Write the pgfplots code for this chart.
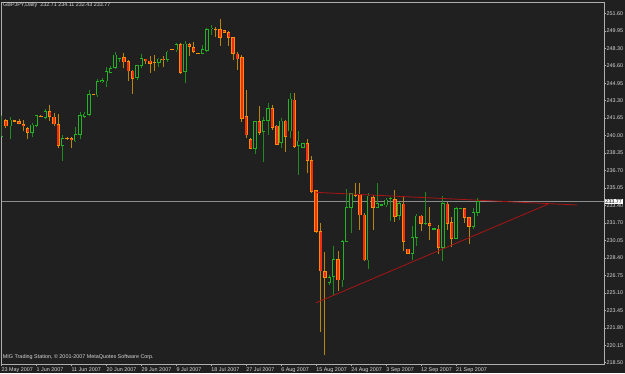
\documentclass[border=0pt]{standalone}
\usepackage{pgfplots}
\pgfplotsset{compat=1.18}
\usepackage{pgfplotstable}
\usepackage{fontspec}
\setmainfont{Liberation Sans}
\definecolor{bg}{RGB}{32,32,32}
\definecolor{axcol}{RGB}{175,175,175}
\definecolor{txt}{RGB}{215,215,215}
\definecolor{bullbody}{RGB}{35,180,35}
\definecolor{bullwick}{RGB}{30,140,30}
\definecolor{bearline}{RGB}{255,140,0}
\definecolor{bearfill}{RGB}{240,45,20}
\definecolor{bearwick}{RGB}{184,134,11}
\definecolor{trend}{RGB}{170,20,20}
\definecolor{pline}{RGB}{140,140,140}

% bullish candles: index open high low close
\pgfplotstableread{
i o h l c
0 239.91 241.97 239.85 241.87
2 240.92 241.74 239.66 241.49
7 240.29 241.18 239.85 241.02
8 240.95 242.00 240.86 241.90
10 241.74 242.57 241.56 242.31
14 239.06 240.07 237.61 239.75
17 239.50 240.86 239.41 240.13
18 240.13 242.25 239.66 241.93
19 241.81 242.28 241.65 242.06
20 242.03 244.33 241.90 243.89
22 243.86 245.38 243.70 245.12
23 245.09 245.44 244.97 245.25
24 245.19 246.54 244.65 246.10
25 246.01 246.61 245.91 246.39
26 246.45 247.90 246.36 247.65
27 247.32 247.40 247.02 247.34
31 245.50 246.73 245.28 246.64
32 246.64 247.74 246.39 247.33
36 246.95 247.40 246.48 247.27
38 247.24 248.06 247.02 247.93
40 248.12 248.75 247.93 248.66
42 246.07 248.94 245.03 248.69
46 247.81 248.56 247.71 248.16
47 248.06 250.18 247.97 250.05
48 250.12 250.49 249.54 250.22
58 238.81 241.40 238.27 241.33
60 240.39 241.81 237.54 241.43
61 241.43 243.07 240.07 242.60
64 239.34 241.65 238.81 241.40
66 240.45 244.02 239.76 243.48
68 239.06 240.45 236.28 239.50
69 238.90 239.35 238.85 239.28
75 226.11 226.81 225.86 226.59
76 226.65 229.56 224.91 228.29
78 226.34 230.12 225.70 229.97
79 229.97 234.95 229.95 233.22
80 233.22 234.61 230.82 234.54
84 228.23 234.54 227.38 234.29
86 233.22 235.49 233.12 233.60
87 233.42 233.50 233.40 233.46
88 233.44 234.07 233.28 233.91
89 234.06 234.23 231.92 234.09
91 232.43 233.76 232.02 233.60
94 228.86 231.45 228.23 230.38
95 230.38 232.55 229.56 232.40
97 231.68 234.70 231.55 231.72
99 231.15 231.25 231.10 231.19
101 229.43 234.29 228.17 233.60
104 230.28 233.22 230.19 233.12
105 233.10 233.19 233.05 233.14
108 231.39 233.12 231.17 232.71
109 232.71 234.11 232.43 233.77
}\bull

% bearish candles: index open high low close
\pgfplotstableread{
i o h l c
1 241.43 241.59 240.70 240.92
3 241.42 241.45 241.35 241.38
4 241.37 241.59 241.08 241.14
5 241.08 241.46 240.48 240.99
6 240.70 240.86 239.66 240.29
9 241.88 241.92 241.83 241.86
11 242.31 242.91 241.43 241.81
12 241.78 242.12 240.92 241.11
13 241.08 242.06 238.84 239.06
15 239.76 239.85 239.60 239.74
16 239.75 239.91 238.87 239.63
21 243.90 243.93 243.85 243.88
28 247.40 247.81 246.39 246.99
29 247.02 247.18 245.22 246.13
30 246.13 246.23 243.99 245.41
33 247.27 247.30 246.80 247.08
34 247.08 247.59 245.98 246.86
35 246.97 247.62 246.17 246.94
37 247.27 247.59 246.48 247.18
39 248.23 248.26 248.17 248.20
41 248.63 248.75 245.82 246.01
43 248.66 248.75 247.59 248.44
44 248.38 248.91 247.81 247.97
45 247.85 247.88 247.80 247.83
49 250.10 250.33 249.39 250.06
50 250.08 251.06 248.53 249.29
51 249.95 250.00 249.72 249.77
52 249.80 249.95 248.53 249.29
53 249.29 249.39 247.18 247.81
54 247.74 247.97 246.23 247.27
55 247.40 247.65 241.33 241.65
56 241.81 244.33 239.76 240.07
57 239.66 239.76 238.75 238.81
59 241.33 242.85 240.07 240.29
62 242.60 242.91 240.54 240.77
63 240.92 241.02 239.12 239.19
65 241.40 241.49 238.49 239.91
67 243.39 244.02 238.81 238.97
70 239.28 239.69 236.44 237.64
71 237.67 238.08 234.61 234.70
72 234.80 234.85 230.82 230.91
73 230.91 231.70 221.44 227.19
74 227.12 229.02 219.23 226.59
77 228.29 229.08 225.32 226.34
81 234.40 235.49 234.23 234.37
82 234.39 235.49 231.07 232.49
83 232.49 232.65 228.17 228.23
85 234.17 234.39 231.07 233.22
90 233.98 234.86 231.86 232.33
92 233.53 234.17 229.08 229.97
93 229.27 229.30 228.83 228.86
96 232.40 232.49 230.98 231.70
98 231.70 233.28 230.12 231.51
100 231.17 231.55 228.77 229.43
102 233.53 233.69 231.07 231.70
103 231.80 232.33 229.43 230.28
106 233.12 233.19 231.70 232.27
107 232.27 232.33 229.74 231.39
}\bear

\begin{document}
\begin{tikzpicture}[font=\fontsize{5.4}{6}\selectfont]
\fill[bg] (0,0) rectangle (625pt,373pt);
\begin{axis}[
  at={(1.5pt,9pt)}, anchor=south west,
  width=602.5pt, height=362pt, scale only axis,
  xmin=0, xmax=137.87, ymin=218.38, ymax=252.67,
  axis line style={draw=axcol, line width=0.6pt},
  tick align=outside, major tick length=2pt,
  tick style={draw=axcol, line width=0.5pt},
  ytick pos=right, yticklabel pos=right, xtick pos=bottom,
  tick label style={font=\fontsize{5.4}{6}\selectfont, text=txt},
  xtick={0,8,16,24,32,40,48,56,64,72,80,88,96,104},
  xticklabels={23 May 2007,1 Jun 2007,11 Jun 2007,20 Jun 2007,29 Jun 2007,9 Jul 2007,18 Jul 2007,27 Jul 2007,6 Aug 2007,15 Aug 2007,24 Aug 2007,3 Sep 2007,12 Sep 2007,21 Sep 2007},
  xticklabel style={anchor=north west, inner sep=0pt, yshift=-1.5pt},
  ytick={251.600,249.945,248.290,246.635,244.980,243.325,241.670,240.015,238.360,236.705,235.050,233.395,231.740,230.085,228.430,226.775,225.120,223.465,221.810,220.155,218.500},
  yticklabels={251.60,249.95,248.30,246.60,244.95,243.30,241.65,240.00,238.35,236.70,235.05,233.40,231.70,230.05,228.40,226.75,225.10,223.45,221.80,220.15,218.50},
  yticklabel style={anchor=west, inner sep=0pt, xshift=0.5pt},
  candle/.style={draw=none, fill=none, mark=none, forget plot,
    error bars/y dir=plus, error bars/y explicit, error bars/error mark=none},
]
% current price line
\addplot[pline, line width=0.6pt, forget plot] coordinates {(0,233.77) (137.87,233.77)};
% wicks
\addplot[candle, error bars/error bar style={draw=bullwick, line width=0.8pt}]
  table[x=i, y=l, y error plus expr=\thisrow{h}-\thisrow{l}] {\bull};
\addplot[candle, error bars/error bar style={draw=bearwick, line width=0.8pt}]
  table[x=i, y=l, y error plus expr=\thisrow{h}-\thisrow{l}] {\bear};
% bullish bodies (hollow)
\addplot[candle, error bars/error bar style={draw=bullbody, line width=3.4pt}]
  table[x=i, y expr=\thisrow{o}-0.03, y error plus expr=\thisrow{c}-\thisrow{o}+0.06] {\bull};
\addplot[candle, error bars/error bar style={draw=bg, line width=2.0pt}]
  table[x=i, y expr=\thisrow{o}+0.04, y error plus expr={max(\thisrow{c}-\thisrow{o}-0.08,0)}] {\bull};
% bearish bodies (filled)
\addplot[candle, error bars/error bar style={draw=bearline, line width=3.4pt}]
  table[x=i, y expr=\thisrow{c}-0.03, y error plus expr=\thisrow{o}-\thisrow{c}+0.06] {\bear};
\addplot[candle, error bars/error bar style={draw=bearfill, line width=2.0pt}]
  table[x=i, y expr=\thisrow{c}+0.04, y error plus expr={max(\thisrow{o}-\thisrow{c}-0.08,0)}] {\bear};
% trend lines
\addplot[trend, line width=0.8pt, forget plot] coordinates {(72,234.64) (131.7,233.44)};
\addplot[trend, line width=0.8pt, forget plot] coordinates {(72,224.18) (125.1,233.53)};
\end{axis}
\node[anchor=west, text=txt, inner sep=0pt] at (3pt,367.5pt) {GBPJPY,Daily\ \ 232.71 234.11 232.43 233.77};
\node[anchor=west, text=txt, inner sep=0pt] at (2.7pt,16pt) {MIG Trading Station, © 2001-2007 MetaQuotes Software Corp.};
\node[anchor=west, fill=white, text=black, inner xsep=0.7pt, inner ysep=0.5pt] at (604.5pt,171.5pt) {233.77};
\end{tikzpicture}
\end{document}
